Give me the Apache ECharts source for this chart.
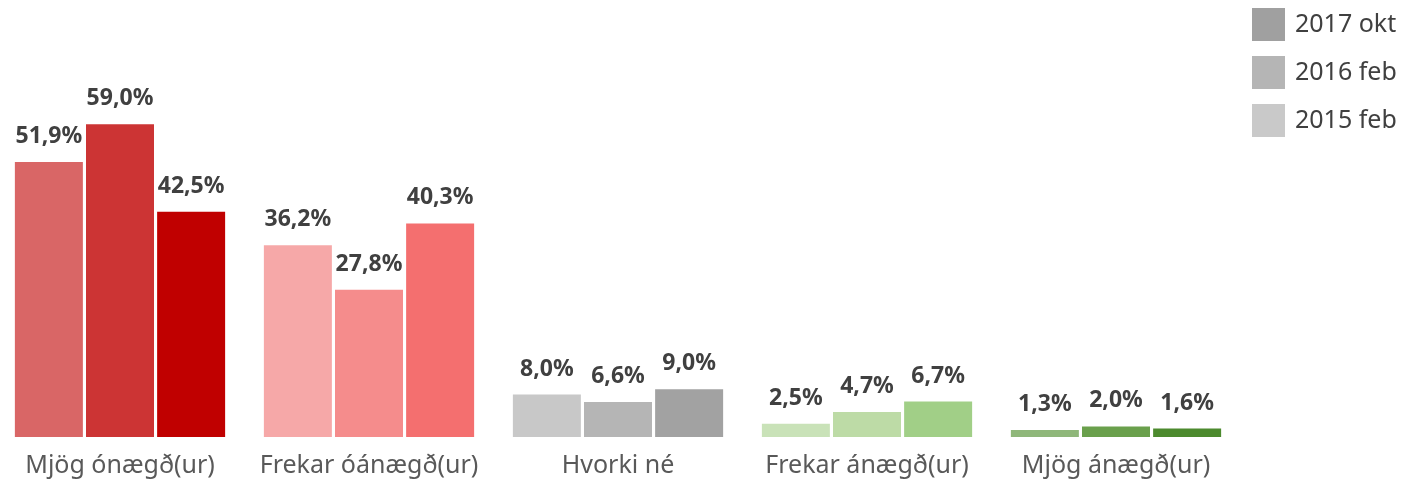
<!DOCTYPE html>
<html>
<head>
<meta charset="utf-8">
<script src="https://cdn.jsdelivr.net/npm/echarts@6/dist/echarts.min.js"></script>
<style>
html,body{margin:0;padding:0;background:#fff;}
#chart{width:1402px;height:493px;}
</style>
</head>
<body>
<div id="chart"></div>
<script>
var categories = ['Mjög ónægð(ur)', 'Frekar óánægð(ur)', 'Hvorki né', 'Frekar ánægð(ur)', 'Mjög ánægð(ur)'];
var seriesNames = ['2015 feb', '2016 feb', '2017 okt'];
var values2015 = [51.9, 36.2, 8.0, 2.5, 1.3];
var values2016 = [59.0, 27.8, 6.6, 4.7, 2.0];
var values2017 = [42.5, 40.3, 9.0, 6.7, 1.6];
var legendOrder = ['2017 okt', '2016 feb', '2015 feb'];

// colours per category (rows) and series (columns)
var barColors = [
  ['#d96666', '#cc3434', '#c00000'],
  ['#f6a8a8', '#f58c8c', '#f46f6f'],
  ['#c8c8c8', '#b5b5b5', '#a2a2a2'],
  ['#c9e2b8', '#bddba6', '#a1cf87'],
  ['#8fb77a', '#6aa04c', '#4c8a2e']
];
var legendColors = ['#c9c9c9', '#b5b5b5', '#a0a0a0'];

var allValues = [values2015, values2016, values2017];

function fmt(v) { return v.toFixed(1).replace('.', ',') + '%'; }

var series = seriesNames.map(function (name, si) {
  return {
    name: name,
    type: 'bar',
    barWidth: 68,
    barGap: '4.6%',
    itemStyle: { color: legendColors[si] },
    label: {
      show: true,
      position: 'top',
      distance: 14,
      formatter: function (p) { return fmt(p.value); },
      fontFamily: 'Noto Sans',
      fontWeight: 'bold',
      fontSize: 23,
      color: '#404040'
    },
    data: allValues[si].map(function (v, ci) {
      return { value: v, itemStyle: { color: barColors[ci][si] } };
    })
  };
});

var chart = echarts.init(document.getElementById('chart'), null, { renderer: 'canvas' });
chart.setOption({
  animation: false,
  backgroundColor: '#ffffff',
  grid: { left: -4.5, right: 161.5, top: 119, bottom: 56, containLabel: false, outerBoundsMode: 'none' },
  legend: {
    orient: 'vertical',
    left: 1247,
    top: 3,
    itemWidth: 33,
    itemHeight: 33,
    itemGap: 15,
    icon: 'rect',
    data: legendOrder,
    textStyle: { fontFamily: 'Noto Sans', fontSize: 25, color: '#404040', padding: [0, 0, 0, 5] }
  },
  xAxis: {
    type: 'category',
    data: categories,
    axisLine: { show: false },
    axisTick: { show: false },
    axisLabel: { interval: 0, fontFamily: 'Noto Sans', fontSize: 25, color: '#595959', margin: 16 }
  },
  yAxis: {
    type: 'value',
    min: 0,
    max: 60,
    show: false,
    splitLine: { show: false }
  },
  series: series
});
</script>
</body>
</html>
